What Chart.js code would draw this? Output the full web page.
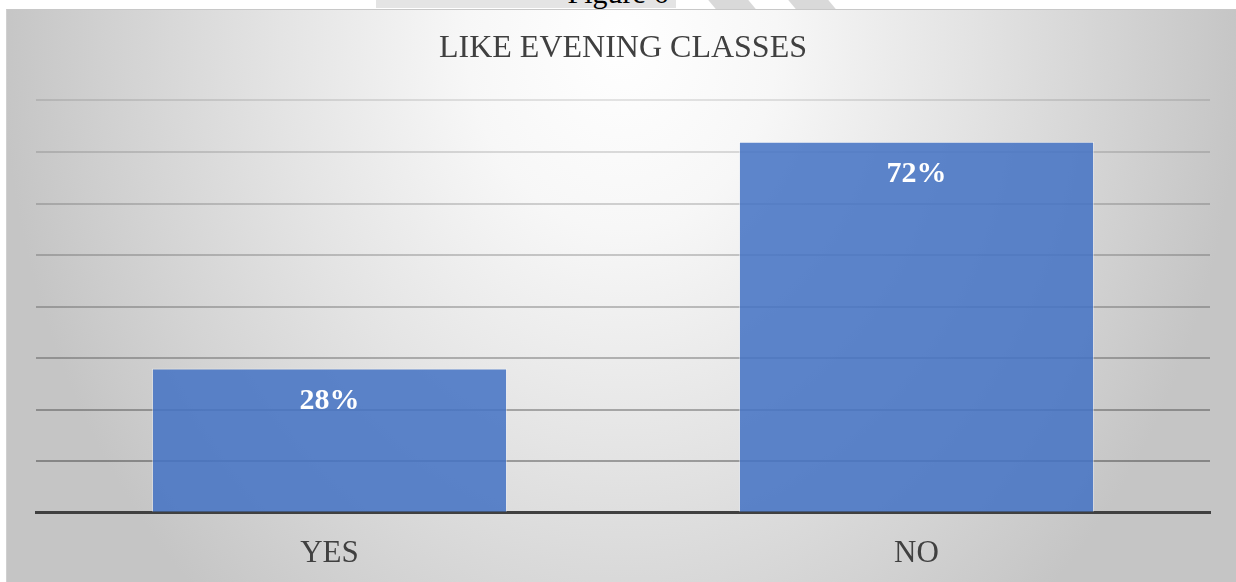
<!DOCTYPE html>
<html>
<head>
<meta charset="utf-8">
<script src="https://cdn.jsdelivr.net/npm/chart.js@4/dist/chart.umd.min.js"></script>
<style>
  html, body { margin: 0; padding: 0; background: #fff; }
  body { width: 1236px; height: 582px; position: relative; overflow: hidden; }
  #figcap {
    position: absolute; left: 0; width: 1236px; top: -22px;
    text-align: center; font: 30px "Liberation Serif", serif; line-height: 30px; color: #000;
  }
  .mark { position: absolute; background: #d9d9d9; }
  #box {
    position: absolute; left: 6px; top: 9px; width: 1230px; height: 573px; overflow: hidden;
    border-top: 1px solid #c8c8c8; border-left: 1px solid #d0d0d0; box-sizing: border-box;
    background: radial-gradient(620px 760px at 50% 5%, #ffffff 0%, #f7f7f7 25%, #e4e4e4 55%, #d3d3d3 80%, #c5c5c5 100%);
  }
  canvas { display: block; }
</style>
</head>
<body>
<div class="mark" style="left:376px;top:0;width:300px;height:8px;background:#e4e4e4"></div>
<div class="mark" style="left:712px;top:0;width:40px;height:9px;transform:skewX(40deg)"></div>
<div class="mark" style="left:792px;top:0;width:40px;height:9px;transform:skewX(40deg)"></div>
<div id="figcap">Figure 6</div>
<div id="box"><canvas id="chart" width="1229" height="594"></canvas></div>
<script>
const categories = ['YES', 'NO'];
const percentages = [28, 72];
const axisMax = 80;

const ctx = document.getElementById('chart').getContext('2d');

// white value labels inside the top of each bar
const barLabels = {
    id: 'barLabels',
    afterDatasetsDraw(chart) {
        const c = chart.ctx;
        const meta = chart.getDatasetMeta(0);
        c.save();
        c.font = 'bold 30px "Liberation Serif", serif';
        c.fillStyle = '#ffffff';
        c.textAlign = 'center';
        c.textBaseline = 'middle';
        meta.data.forEach((bar, i) => {
            c.fillText(percentages[i] + '%', bar.x, bar.y + 33);
        });
        c.restore();
    }
};

new Chart(ctx, {
    type: 'bar',
    data: {
        labels: categories,
        datasets: [{
            data: percentages,
            backgroundColor: 'rgba(68, 114, 196, 0.86)',
            borderColor: 'rgba(255, 255, 255, 0.45)',
            borderWidth: 1,
            barPercentage: 0.605,
            categoryPercentage: 1.0
        }]
    },
    options: {
        responsive: false,
        animation: false,
        devicePixelRatio: 1,
        layout: { padding: { left: 29, right: 26, top: 0, bottom: 10 } },
        plugins: {
            legend: { display: false },
            tooltip: { enabled: false },
            title: {
                display: true,
                text: 'LIKE EVENING CLASSES',
                color: '#404040',
                font: { family: '"Liberation Serif", serif', size: 32, weight: 'normal', lineHeight: 1.2 },
                padding: { top: 19, bottom: 33 }
            }
        },
        scales: {
            x: {
                grid: { display: false, drawTicks: false },
                border: { display: true, color: '#404040', width: 3 },
                ticks: {
                    color: '#404040',
                    padding: 22,
                    font: { family: '"Liberation Serif", serif', size: 31 }
                }
            },
            y: {
                min: 0,
                max: axisMax,
                ticks: { display: false, stepSize: 10 },
                border: { display: false },
                grid: {
                    drawTicks: false,
                    lineWidth: 2,
                    color: (c) => 'rgba(0,0,0,' + (0.1 + 0.25 * (1 - c.tick.value / axisMax)).toFixed(3) + ')'
                }
            }
        }
    },
    plugins: [barLabels]
});
</script>
</body>
</html>
